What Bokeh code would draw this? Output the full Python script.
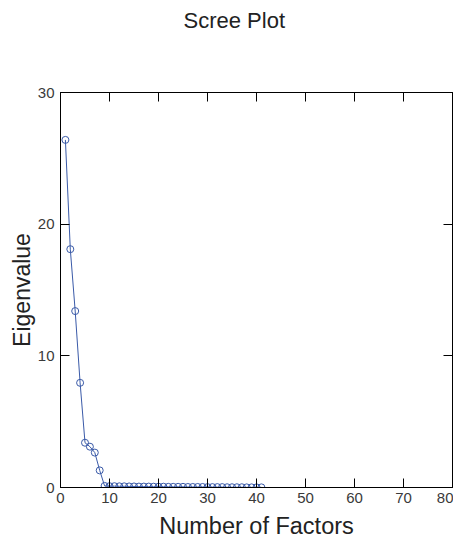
from bokeh.plotting import figure
from bokeh.models import LinearAxis, FixedTicker, Range1d, Title
from bokeh.embed import file_html
from bokeh.resources import INLINE

# Data
factors = list(range(1, 42))
eigenvalues = [26.4, 18.1, 13.4, 7.95, 3.4, 3.1, 2.65, 1.3,
               0.12, 0.1, 0.1, 0.09, 0.09, 0.08, 0.08, 0.07, 0.07, 0.07,
               0.06, 0.06, 0.06, 0.05, 0.05, 0.05, 0.05, 0.04, 0.04, 0.04,
               0.04, 0.03, 0.03, 0.03, 0.03, 0.02, 0.02, 0.02, 0.02, 0.01,
               0.01, 0.01, 0.01]
x_ticks = [0, 10, 20, 30, 40, 50, 60, 70, 80]
y_ticks = [0, 10, 20, 30]

FONT = "Liberation Sans"
LINE = "#3a5aa8"

p = figure(width=453, height=544, output_backend="svg", toolbar_location=None,
           x_range=Range1d(0, 80), y_range=Range1d(0, 30),
           min_border_left=60, min_border_right=1, min_border_top=92,
           min_border_bottom=57, background_fill_color="white",
           border_fill_color="white")
p.title = None

p.grid.visible = False
p.outline_line_color = "#000000"
p.outline_line_width = 1

p.line(factors, eigenvalues, line_color=LINE, line_width=1)
p.scatter(factors, eigenvalues, marker="circle", size=7, fill_color="white",
          fill_alpha=0.0, line_color=LINE, line_width=1)

def style_axis(ax, labels=True):
    ax.major_tick_in = 9
    ax.major_tick_out = 0
    ax.minor_tick_in = 0
    ax.minor_tick_out = 0
    ax.axis_line_color = "#000000"
    ax.major_tick_line_color = "#000000"
    ax.major_label_text_font = FONT
    ax.major_label_text_font_size = "15px"
    ax.major_label_text_color = "#3a3a3a"
    ax.axis_label_text_font = FONT
    ax.axis_label_text_font_size = "22px"
    ax.axis_label_text_font_style = "normal"
    ax.axis_label_text_color = "#222222"
    if not labels:
        ax.major_label_text_font_size = "0px"
        ax.major_label_text_alpha = 0
        ax.major_label_standoff = 0

xa = p.xaxis[0]
xa.ticker = FixedTicker(ticks=x_ticks)
xa.axis_label = "Number of Factors"
style_axis(xa)
xa.axis_label_text_font_size = "23.5px"
xa.major_label_standoff = 5
xa.axis_label_standoff = 7

ya = p.yaxis[0]
ya.ticker = FixedTicker(ticks=y_ticks)
ya.axis_label = "Eigenvalue"
style_axis(ya)
ya.axis_label_text_font_size = "23px"
ya.major_label_standoff = 6
ya.axis_label_standoff = 0

top = LinearAxis(ticker=FixedTicker(ticks=x_ticks))
style_axis(top, labels=False)
p.add_layout(top, "above")
right = LinearAxis(ticker=FixedTicker(ticks=y_ticks))
style_axis(right, labels=False)
p.add_layout(right, "right")

# empty spacer that lifts the title away from the plot box
p.add_layout(Title(text=" ", text_font=FONT, text_font_size="52px",
                   standoff=0), "above")
p.add_layout(Title(text="Scree Plot", align="left", offset=123,
                   text_font=FONT, text_font_size="22px",
                   text_font_style="normal", text_color="#222222",
                   standoff=0), "above")

open("out.html", "w").write(file_html(p, INLINE))
